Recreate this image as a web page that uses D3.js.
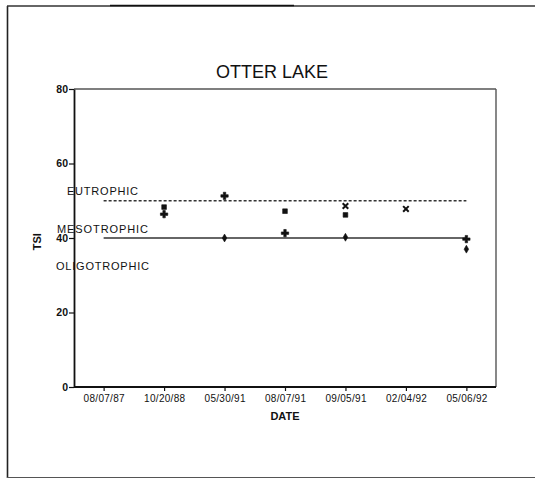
<!DOCTYPE html>
<html>
<head>
<meta charset="utf-8">
<script src="https://cdn.jsdelivr.net/npm/d3@7"></script>
<style>
  html, body { margin: 0; padding: 0; background: #fff; }
  svg text { font-family: "Liberation Sans", Arial, Helvetica, sans-serif; fill: #111; }
</style>
</head>
<body>
<svg id="chart" width="535" height="479"></svg>
<script>
// Sampling dates (x categories)
const dates = ["08/07/87", "10/20/88", "05/30/91", "08/07/91", "09/05/91", "02/04/92", "05/06/92"];

// TSI values per sampling date, one array per index (null = not sampled)
const tsiChlorophyll = [null, 46.4, 51.3, 41.3, null, null, 39.7];
const tsiSecchi      = [null, 48.3, null, 47.2, 46.2, null, null];
const tsiPhosphorus  = [null, null, 40.0, null, 40.2, null, 37.0];
const tsiAverage     = [null, null, null, null, 48.6, 47.8, null];

// Y axis ticks
const yTicks = [0, 20, 40, 60, 80];

// Trophic state boundaries
const eutrophicLevel = 50;
const mesotrophicLevel = 40;

const svg = d3.select("#chart");
const W = 535, H = 479;
const plot = { left: 74, right: 496, top: 89, bottom: 387 };

svg.append("rect").attr("width", W).attr("height", H).attr("fill", "#fff");

// Outer frame
const frame = svg.append("g").attr("fill", "none");
frame.append("line").attr("x1", 7.5).attr("y1", 6).attr("x2", 7.5).attr("y2", 478)
  .attr("stroke", "#222").attr("stroke-width", 1.6);
frame.append("line").attr("x1", 7).attr("y1", 6).attr("x2", 535).attr("y2", 6)
  .attr("stroke", "#333").attr("stroke-width", 1.4);
frame.append("line").attr("x1", 110).attr("y1", 5.5).attr("x2", 294).attr("y2", 5.5)
  .attr("stroke", "#111").attr("stroke-width", 1.6);
frame.append("line").attr("x1", 7).attr("y1", 477.5).attr("x2", 535).attr("y2", 477.5)
  .attr("stroke", "#555").attr("stroke-width", 1.2);

const x = d3.scalePoint().domain(dates).range([plot.left, plot.right]).padding(0.49);
const y = d3.scaleLinear().domain([0, 80]).range([plot.bottom, plot.top]);

// Title
svg.append("text")
  .attr("x", 272).attr("y", 78)
  .attr("text-anchor", "middle")
  .attr("font-size", 18)
  .text("OTTER LAKE");

// Plot frame: top and right in grey
svg.append("line").attr("x1", plot.left).attr("y1", plot.top).attr("x2", plot.right).attr("y2", plot.top)
  .attr("stroke", "#555").attr("stroke-width", 1.4);
svg.append("line").attr("x1", plot.right).attr("y1", plot.top).attr("x2", plot.right).attr("y2", plot.bottom)
  .attr("stroke", "#555").attr("stroke-width", 1.4);

// Y axis
const yAxis = svg.append("g")
  .attr("transform", `translate(${plot.left},0)`)
  .call(d3.axisLeft(y).tickValues(yTicks).tickSize(5).tickPadding(1).tickSizeOuter(0));
yAxis.select(".domain").attr("stroke", "#111").attr("stroke-width", 1.8);
yAxis.selectAll(".tick line").attr("stroke", "#111").attr("stroke-width", 1.2);
yAxis.selectAll(".tick text").attr("font-size", 10.5).attr("font-weight", "bold")
  .style("font-family", "'Liberation Sans', Arial, sans-serif").attr("fill", "#111");

// X axis
const xAxis = svg.append("g")
  .attr("transform", `translate(0,${plot.bottom})`)
  .call(d3.axisBottom(x).tickSize(4).tickSizeOuter(0));
xAxis.select(".domain").attr("d", `M${plot.left},0H${plot.right}`)
  .attr("stroke", "#111").attr("stroke-width", 1.8);
xAxis.selectAll(".tick line").attr("stroke", "#111").attr("stroke-width", 1.2);
xAxis.selectAll(".tick text").attr("font-size", 10).attr("y", 15).attr("dy", 0)
  .attr("textLength", 41)
  .style("font-family", "'Liberation Sans', Arial, sans-serif").attr("fill", "#111");

// Axis titles
svg.append("text")
  .attr("x", x(dates[3])).attr("y", 420)
  .attr("text-anchor", "middle")
  .attr("font-size", 11).attr("font-weight", "bold")
  .text("DATE");
svg.append("text")
  .attr("transform", `translate(41,${y(39)}) rotate(-90)`)
  .attr("text-anchor", "middle")
  .attr("font-size", 11).attr("font-weight", "bold")
  .text("TSI");

// Trophic boundary lines
svg.append("line")
  .attr("x1", x(dates[0])).attr("x2", x(dates[dates.length - 1]))
  .attr("y1", y(eutrophicLevel)).attr("y2", y(eutrophicLevel))
  .attr("stroke", "#333").attr("stroke-width", 1.3).attr("stroke-dasharray", "3,2");
svg.append("line")
  .attr("x1", x(dates[0])).attr("x2", x(dates[dates.length - 1]))
  .attr("y1", y(mesotrophicLevel)).attr("y2", y(mesotrophicLevel))
  .attr("stroke", "#333").attr("stroke-width", 1.5);

// Trophic state labels
const labelFont = 11;
svg.append("text").attr("x", 67).attr("y", y(eutrophicLevel) - 6)
  .attr("font-size", labelFont).attr("textLength", 71).text("EUTROPHIC");
svg.append("text").attr("x", 57).attr("y", y(mesotrophicLevel) - 5.5)
  .attr("font-size", labelFont).attr("textLength", 91).text("MESOTROPHIC");
svg.append("text").attr("x", 56).attr("y", y(mesotrophicLevel) + 32)
  .attr("font-size", labelFont).attr("textLength", 93).text("OLIGOTROPHIC");

// Data markers
const series = [
  { values: tsiChlorophyll, symbol: d3.symbolCross, size: 30 },
  { values: tsiSecchi, symbol: d3.symbolSquare, size: 22 },
  { values: tsiPhosphorus, symbol: d3.symbolDiamond, size: 18 },
  { values: tsiAverage, symbol: d3.symbolTimes, size: 22 }
];

series.forEach(s => {
  const pts = dates.map((d, i) => ({ date: d, v: s.values[i] })).filter(p => p.v != null);
  svg.append("g").selectAll("path")
    .data(pts)
    .join("path")
    .attr("transform", p => `translate(${x(p.date)},${y(p.v)})`)
    .attr("d", d3.symbol().type(s.symbol).size(s.size))
    .attr("fill", s.symbol === d3.symbolTimes ? "none" : "#111")
    .attr("stroke", "#111")
    .attr("stroke-width", s.symbol === d3.symbolTimes ? 2 : 0.6);
});
</script>
</body>
</html>
